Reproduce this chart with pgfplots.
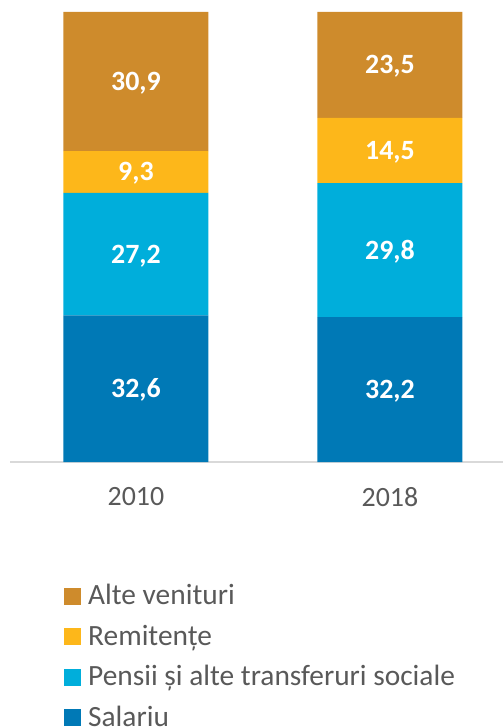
\documentclass[border=0pt]{standalone}
\usepackage{pgfplots}
\pgfplotsset{compat=1.18}
\usepackage{pgfplotstable}
\usepackage{fontspec}
\setmainfont{Carlito}
\definecolor{csal}{HTML}{0079B6}
\definecolor{cpen}{HTML}{00AEDB}
\definecolor{crem}{HTML}{FDB71A}
\definecolor{calt}{HTML}{CE8B2C}
\definecolor{tgray}{HTML}{595959}
\definecolor{lgray}{HTML}{D9D9D9}
\pgfplotstableread{
x sal pen rem alt
0 32.6 27.2 9.3 30.9
1 32.2 29.8 14.5 23.5
}\datatable
\begin{document}
\begin{tikzpicture}
\useasboundingbox (-10bp,-266bp) rectangle (493bp,462bp);
\begin{axis}[
  at={(0,0)}, anchor=south west,
  scale only axis, width=493bp, height=450bp,
  ymin=0, ymax=100, xmin=-0.496, xmax=1.445,
  ybar stacked, bar width=145bp,
  hide y axis,
  axis x line*=bottom,
  x axis line style={-, draw=lgray, line width=1.5bp},
  xtick={0,1}, xticklabels={2010,2018},
  major tick length=0pt,
  xticklabel style={font=\fontsize{28}{34}\selectfont, text=tgray, inner sep=0pt, anchor=north, yshift=-25bp},
  clip=false,
  /pgf/number format/.cd, fixed, fixed zerofill, precision=1, use comma, assume math mode=true,
  /pgfplots/.cd,
  nodes near coords,
  every node near coord/.append style={font=\fontsize{28}{34}\selectfont\bfseries, text=white, anchor=center, inner sep=0pt, text height=18bp, text depth=0pt},
  reverse legend,
  legend cell align=left,
  legend style={at={(0.1095,-0.2746)}, anchor=north west, draw=none, fill=none, inner sep=0pt,
    font=\fontsize{29.5}{35}\selectfont, text=tgray, row sep=15.5bp,
    nodes={inner sep=0pt, text height=19bp, text depth=6bp},
    /tikz/every odd column/.style={column sep=7bp}},
  legend image code/.code={\fill[#1] (0bp,-6.5bp) rectangle (17bp,10.5bp);},
]
\addplot[fill=csal, draw=none, point meta=\thisrow{sal}] table[x=x, y=sal] {\datatable};
\addlegendentry{Salariu}
\addplot[fill=cpen, draw=none, point meta=\thisrow{pen}] table[x=x, y=pen] {\datatable};
\addlegendentry{Pensii și alte transferuri sociale}
\addplot[fill=crem, draw=none, point meta=\thisrow{rem}] table[x=x, y=rem] {\datatable};
\addlegendentry{Remitențe}
\addplot[fill=calt, draw=none, point meta=\thisrow{alt}] table[x=x, y=alt] {\datatable};
\addlegendentry{Alte venituri}
\end{axis}
\end{tikzpicture}
\end{document}
